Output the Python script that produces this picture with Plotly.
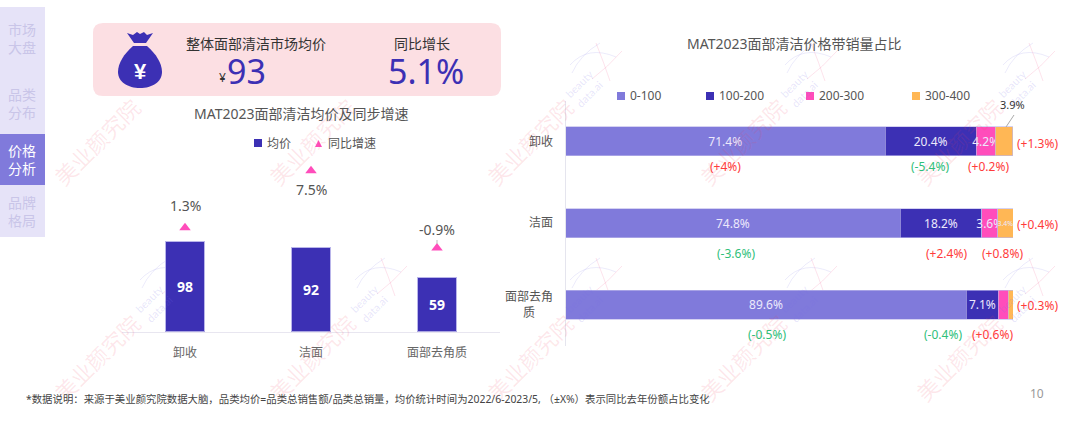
import plotly.graph_objects as go

W, H = 1080, 421
FONT = "'Noto Sans','Noto Sans CJK SC'"

# ---------- data ----------
categories = ["卸收", "洁面", "面部去角质"]
avg_price = [98, 92, 59]
yoy_growth = [1.3, 7.5, -0.9]
yoy_labels = ["1.3%", "7.5%", "-0.9%"]

band_categories = ["卸收", "洁面", "面部去角<br>质\u3000\u2002"]
band_names = ["0-100", "100-200", "200-300", "300-400"]
share_0_100 = [71.4, 74.8, 89.6]
share_100_200 = [20.4, 18.2, 7.1]
share_200_300 = [4.2, 3.6, 2.2]
share_300_400 = [3.9, 3.4, 1.1]
text_0_100 = ["71.4%", "74.8%", "89.6%"]
text_100_200 = ["20.4%", "18.2%", "7.1%"]
text_200_300 = ["4.2%", "3.6%", ""]
text_300_400 = ["", "3.4%", ""]

change_labels = ["(+4%)", "(-5.4%)", "(+0.2%)", "(+1.3%)",
                 "(-3.6%)", "(+2.4%)", "(+0.8%)", "(+0.4%)",
                 "(-0.5%)", "(-0.4%)", "(+0.6%)", "(+0.3%)"]

# ---------- style / placement ----------
C_LILAC, C_INDIGO, C_PINK, C_ORANGE = "#807adb", "#3c30b4", "#ff4dbb", "#ffb755"
C_RED, C_GREEN = "#ff3b3b", "#2fc07a"
band_colors = [C_LILAC, C_INDIGO, C_PINK, C_ORANGE]
change_x_px = [725, 930, 988, 1037, 736, 946, 1002, 1037, 767, 943, 992, 1037]
change_y_px = [166, 166, 166, 143, 253, 253, 253, 224, 334, 334, 334, 305]
yoy_label_shift = [22, -19, 18]


def px(x):
    return x / W


def py(y):
    return 1 - y / H


def text(x, y, s, size=12, color="#555555", anchor="center", **kw):
    return dict(xref="paper", yref="paper", x=px(x), y=py(y), text=s, showarrow=False,
                xanchor=anchor, yanchor="middle",
                font=dict(size=size, color=color, family=kw.pop("family", FONT),
                          **({"weight": kw.pop("weight")} if "weight" in kw else {})), **kw)


def rect(x0, y0, x1, y1, color, layer="below"):
    return dict(type="rect", xref="paper", yref="paper", x0=px(x0), x1=px(x1), y0=py(y0), y1=py(y1),
                fillcolor=color, line_width=0, layer=layer)


def path(points_fn, color=None, line=None, layer="below", width=1):
    return dict(type="path", xref="paper", yref="paper", path=points_fn,
                fillcolor=color if color else "rgba(0,0,0,0)",
                line=dict(color=line if line else "rgba(0,0,0,0)", width=width), layer=layer)


def P(x, y):
    return f"{px(x):.5f},{py(y):.5f}"


fig = go.Figure()

# left chart
fig.add_trace(go.Bar(x=categories, y=avg_price, name="均价", width=0.317,
                     marker=dict(color=C_INDIGO, line=dict(color="#b9b5ea", width=1)),
                     text=[str(v) for v in avg_price], textposition="inside", insidetextanchor="middle",
                     textangle=0, constraintext="none",
                     textfont=dict(size=14, color="white", family=FONT, weight="bold"),
                     xaxis="x", yaxis="y", showlegend=False))
fig.add_trace(go.Scatter(x=categories, y=yoy_growth, name="同比增速", mode="markers",
                         marker=dict(symbol="triangle-up", size=10, color=C_PINK),
                         xaxis="x", yaxis="y2", cliponaxis=False, showlegend=False))

# right chart
for name, vals, txt, col in zip(band_names,
                                [share_0_100, share_100_200, share_200_300, share_300_400],
                                [text_0_100, text_100_200, text_200_300, text_300_400],
                                band_colors):
    sizes = [7, 7, 7] if name == "300-400" else [12, 12, 12]
    fig.add_trace(go.Bar(y=band_categories, x=vals, name=name, orientation="h", width=0.355,
                         marker=dict(color=col, line=dict(color="rgba(190,185,235,0.8)", width=0.8)),
                         text=txt, textposition="inside", insidetextanchor="middle", textangle=0,
                         constraintext="none", cliponaxis=False,
                         textfont=dict(size=sizes, color="#ece9fb", family=FONT),
                         xaxis="x2", yaxis="y3", showlegend=False))

shapes = []
ann = []

# watermark
wm_color = "rgba(240,60,90,0.12)"
logo_color_a = "rgba(120,110,230,0.14)"
logo_color_b = "rgba(240,60,120,0.14)"
for cx in (97, 312, 530, 743, 959):
    for cy in (142, 358):
        ann.append(text(cx, cy, "美业颜究院", size=22, color=wm_color, textangle=-45))
for lx, ly in [(570, 43), (785, 43), (1003, 43), (140, 258), (355, 258), (570, 258), (785, 258), (1003, 258)]:
    shapes.append(path(f"M {P(lx, ly + 22)} Q {P(lx + 18, ly + 2)} {P(lx + 46, ly + 14)}", line=logo_color_a))
    shapes.append(path(f"M {P(lx + 2, ly + 30)} Q {P(lx + 10, ly + 12)} {P(lx + 30, ly)}", line=logo_color_a))
    shapes.append(path(f"M {P(lx + 26, ly)} Q {P(lx + 34, ly + 20)} {P(lx + 40, ly + 38)}", line=logo_color_b))
    shapes.append(path(f"M {P(lx + 52, ly + 8)} Q {P(lx + 38, ly + 24)} {P(lx + 22, ly + 36)}", line=logo_color_b))
    ann.append(text(lx + 14, ly + 45, "beauty<br>data.ai", size=11, color="rgba(120,110,230,0.18)",
                    textangle=-45, family="Lato"))

# sidebar
shapes.append(rect(0, 7, 45, 237, "#e6e3f8"))
shapes.append(rect(0, 134, 45, 185, C_LILAC))
for y, s, c in [(39, "市场<br>大盘", "#c9c5e8"), (103, "品类<br>分布", "#c9c5e8"),
                (160, "价格<br>分析", "#ffffff"), (211, "品牌<br>格局", "#c9c5e8")]:
    ann.append(text(22, y, s, size=14, color=c))

# KPI box
r = 10
shapes.append(path(
    f"M {P(93 + r, 23)} L {P(501 - r, 23)} Q {P(501, 23)} {P(501, 23 + r)} L {P(501, 96 - r)} Q {P(501, 96)} {P(501 - r, 96)} "
    f"L {P(93 + r, 96)} Q {P(93, 96)} {P(93, 96 - r)} L {P(93, 23 + r)} Q {P(93, 23)} {P(93 + r, 23)} Z",
    color="#fcdfe3"))
# money bag
shapes.append(path(
    f"M {P(127, 33)} L {P(133, 35)} L {P(137, 32)} L {P(140, 34)} L {P(144, 32)} L {P(147, 35)} L {P(153, 33)} "
    f"L {P(146, 43)} L {P(134, 43)} Z", color=C_INDIGO, layer="above"))
shapes.append(path(
    f"M {P(133, 46)} L {P(147, 46)} C {P(156, 54)} {P(162, 63)} {P(162, 72)} C {P(162, 82)} {P(152, 88)} {P(140, 88)} "
    f"C {P(128, 88)} {P(118, 82)} {P(118, 72)} C {P(118, 63)} {P(124, 54)} {P(133, 46)} Z", color=C_INDIGO, layer="above"))
ann.append(text(140, 71, "¥", size=22, color="white", family="Liberation Sans", weight="bold"))
ann.append(text(256, 43, "整体面部清洁市场均价", size=14, color="#333333"))
ann.append(text(222, 78, "¥", size=12, color="#333333"))
ann.append(text(246, 71, "93", size=34, color=C_INDIGO))
ann.append(text(422, 43, "同比增长", size=14, color="#333333"))
ann.append(text(426, 71, "5.1%", size=34, color=C_INDIGO))

# titles
ann.append(text(301, 113, "MAT2023面部清洁均价及同步增速", size=14, color="#555555"))
ann.append(text(794, 43, "MAT2023面部清洁价格带销量占比", size=14, color="#555555"))

# left legend
shapes.append(rect(254, 139, 262, 147, C_INDIGO, layer="above"))
ann.append(text(265, 143, "均价", size=12, anchor="left"))
shapes.append(path(f"M {P(318.5, 140)} L {P(322, 147)} L {P(315, 147)} Z", color=C_PINK, layer="above"))
ann.append(text(326, 143, "同比增速", size=12, anchor="left"))

# right legend
for lx, name, col in zip([617, 706, 806, 912], band_names, band_colors):
    shapes.append(rect(lx, 92, lx + 8, 100, col, layer="above"))
    ann.append(text(lx + 11, 96, name, size=12, anchor="left"))

# growth labels
for cat, val, lab, sh in zip(categories, yoy_growth, yoy_labels, yoy_label_shift):
    ann.append(dict(xref="x", yref="y2", x=cat, y=val, text=lab, showarrow=False, yshift=sh,
                    font=dict(size=14, color="#555555", family=FONT)))

# -0.9% leader
shapes.append(dict(type="line", xref="paper", yref="paper", x0=px(437), x1=px(437), y0=py(240), y1=py(244),
                   line=dict(color="#bbbbbb", width=1)))
# 3.9% leader
shapes.append(dict(type="line", xref="paper", yref="paper", x0=px(1006), x1=px(1014), y0=py(127), y1=py(115),
                   line=dict(color="#aaaaaa", width=1)))
ann.append(text(1012, 105, "3.9%", size=11, color="#333333"))

# change labels
for lab, x, y in zip(change_labels, change_x_px, change_y_px):
    ann.append(text(x, y, lab, size=12, color=C_GREEN if lab.startswith("(-") else C_RED))

# footer
ann.append(text(24, 399, "*数据说明：来源于美业颜究院数据大脑，品类均价=品类总销售额/品类总销量，均价统计时间为2022/6-2023/5,&nbsp;（±X%）表示同比去年份额占比变化",
                size=10.4, color="#444444", anchor="left"))
ann.append(text(1037, 393, "10", size=12, color="#999999"))

fig.update_layout(
    width=W, height=H, margin=dict(l=0, r=0, t=0, b=0), paper_bgcolor="white", plot_bgcolor="rgba(0,0,0,0)",
    barmode="stack", font=dict(family=FONT), shapes=shapes, annotations=ann,
    xaxis=dict(domain=[px(122), px(500)], anchor="y", type="category", showgrid=False, ticks="",
               ticklabelstandoff=10,
               tickfont=dict(size=12, color="#666666"), showline=True, linecolor="#e8e6f0", linewidth=1),
    yaxis=dict(domain=[py(331.5), py(129.5)], range=[0, 220], visible=False, fixedrange=True),
    yaxis2=dict(domain=[py(331.5), py(129.5)], range=[-10, 12], visible=False, overlaying="y", anchor="x"),
    xaxis2=dict(domain=[px(565.5), px(1013)], range=[0, 100], anchor="y3", visible=False),
    yaxis3=dict(domain=[py(345.5), py(100.5)], autorange="reversed", type="category", anchor="x2",
                showgrid=False, ticks="", ticklen=0, showline=True, linecolor="#e5e5ee", linewidth=1,
                ticklabelstandoff=9, tickfont=dict(size=12, color="#555555")),
)

fig.write_html("out.html", config=dict(displayModeBar=False),
               post_script="document.body.style.margin='0';document.body.style.overflow='hidden';")
